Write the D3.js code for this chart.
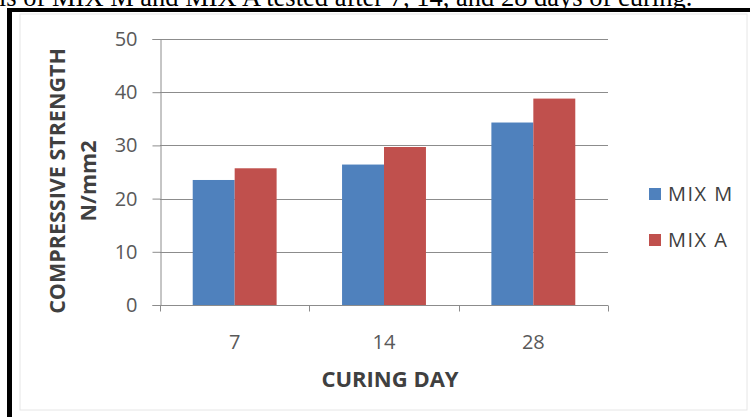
<!DOCTYPE html>
<html>
<head>
<meta charset="utf-8">
<script src="https://cdn.jsdelivr.net/npm/d3@7"></script>
<style>
  html, body { margin: 0; padding: 0; background: #fff; }
  svg { display: block; }
</style>
</head>
<body>
<svg id="chart" width="750" height="417"></svg>
<script>
// Compressive strength by curing age for the two mixes
const curingDays = ["7", "14", "28"];
const seriesNames = ["MIX M", "MIX A"];
const mixM = [23.5, 26.4, 34.3];
const mixA = [25.7, 29.7, 38.8];
const yTicks = [0, 10, 20, 30, 40, 50];
const captionText = "ls of MIX M and MIX A tested after 7, 14, and 28 days of curing.";

const colors = ["#4F81BD", "#C0504D"];
const font = "'Open Sans', 'Liberation Sans', sans-serif";

const svg = d3.select("#chart");

// caption line above the framed chart
svg.append("text")
  .attr("x", -1).attr("y", 6)
  .attr("font-family", "'Liberation Serif', 'Times New Roman', serif")
  .attr("font-size", 26.5)
  .attr("fill", "#000")
  .text(captionText);

// outer frame: heavy top and left rules, faint chart-area border
svg.append("rect")
  .attr("x", 20).attr("y", 14).attr("width", 727).attr("height", 396)
  .attr("fill", "#fff").attr("stroke", "#e6e6e6").attr("stroke-width", 1);
svg.append("line").attr("x1", 7).attr("x2", 750).attr("y1", 10).attr("y2", 10)
  .attr("stroke", "#000").attr("stroke-width", 4);
svg.append("line").attr("x1", 9.5).attr("x2", 9.5).attr("y1", 8).attr("y2", 417)
  .attr("stroke", "#000").attr("stroke-width", 5);

const plot = { left: 160, right: 608, top: 39, bottom: 305 };

const x = d3.scaleBand().domain(curingDays).range([plot.left, plot.right]).paddingInner(0).paddingOuter(0);
const x1 = d3.scaleBand().domain(seriesNames).range([0, x.bandwidth()]).paddingInner(0).paddingOuter(0.78);
const y = d3.scaleLinear().domain([0, 50]).range([plot.bottom, plot.top]);

const gridColor = "#8c8c8c";

// horizontal gridlines
svg.append("g").selectAll("line").data(yTicks.filter(d => d > 0)).join("line")
  .attr("x1", plot.left).attr("x2", plot.right)
  .attr("y1", d => Math.round(y(d)) + 0.5).attr("y2", d => Math.round(y(d)) + 0.5)
  .attr("stroke", gridColor).attr("stroke-width", 1);

// y axis
const yAxis = svg.append("g")
  .attr("transform", `translate(${plot.left + 0.5},0)`)
  .call(d3.axisLeft(y).tickValues(yTicks).tickSize(8).tickPadding(15).tickFormat(d3.format("d")));
yAxis.select(".domain").attr("stroke", gridColor);
yAxis.selectAll(".tick line").attr("stroke", gridColor);
yAxis.selectAll(".tick text")
  .attr("font-family", font).attr("font-size", 20).attr("fill", "#595959");

// bars
const data = curingDays.map((day, i) => ({ day, values: [mixM[i], mixA[i]] }));
const groups = svg.append("g").selectAll("g").data(data).join("g")
  .attr("transform", d => `translate(${x(d.day)},0)`);
groups.selectAll("rect").data(d => d.values.map((v, j) => ({ name: seriesNames[j], v, j }))).join("rect")
  .attr("x", d => x1(d.name))
  .attr("width", x1.bandwidth())
  .attr("y", d => y(d.v))
  .attr("height", d => y(0) - y(d.v))
  .attr("fill", d => colors[d.j]);

// x axis with ticks between categories
const xAxisG = svg.append("g").attr("transform", `translate(0,${plot.bottom + 0.5})`);
xAxisG.append("line").attr("x1", plot.left).attr("x2", plot.right).attr("stroke", gridColor);
const boundaries = curingDays.map(d => x(d)).concat([plot.right]);
xAxisG.selectAll("line.tk").data(boundaries).join("line").attr("class", "tk")
  .attr("x1", d => Math.round(d) + 0.5).attr("x2", d => Math.round(d) + 0.5)
  .attr("y1", 0).attr("y2", 6).attr("stroke", gridColor);
xAxisG.selectAll("text").data(curingDays).join("text")
  .attr("x", d => x(d) + x.bandwidth() / 2)
  .attr("y", 43)
  .attr("text-anchor", "middle")
  .attr("font-family", font).attr("font-size", 20).attr("fill", "#595959")
  .text(d => d);

// axis titles
svg.append("text")
  .attr("x", 390).attr("y", 387)
  .attr("text-anchor", "middle")
  .attr("font-family", font).attr("font-size", 22).attr("font-weight", "bold").attr("fill", "#404040")
  .text("CURING DAY");

const yTitle = svg.append("text")
  .attr("transform", "translate(65,181) rotate(-90)")
  .attr("text-anchor", "middle")
  .attr("font-family", font).attr("font-size", 21.5).attr("font-weight", "bold").attr("fill", "#404040");
yTitle.append("tspan").attr("x", 0).attr("dy", 0).text("COMPRESSIVE STRENGTH");
yTitle.append("tspan").attr("x", 0).attr("dy", 31).text("N/mm2");

// legend
const legend = svg.append("g").selectAll("g").data(seriesNames).join("g")
  .attr("transform", (d, i) => `translate(649,${188 + i * 46})`);
legend.append("rect").attr("width", 12).attr("height", 12).attr("fill", (d, i) => colors[i]);
legend.append("text")
  .attr("x", 19).attr("y", 6).attr("dy", "0.35em")
  .attr("font-family", font).attr("font-size", 20).attr("letter-spacing", 1.5).attr("fill", "#404040")
  .text(d => d);
</script>
</body>
</html>
